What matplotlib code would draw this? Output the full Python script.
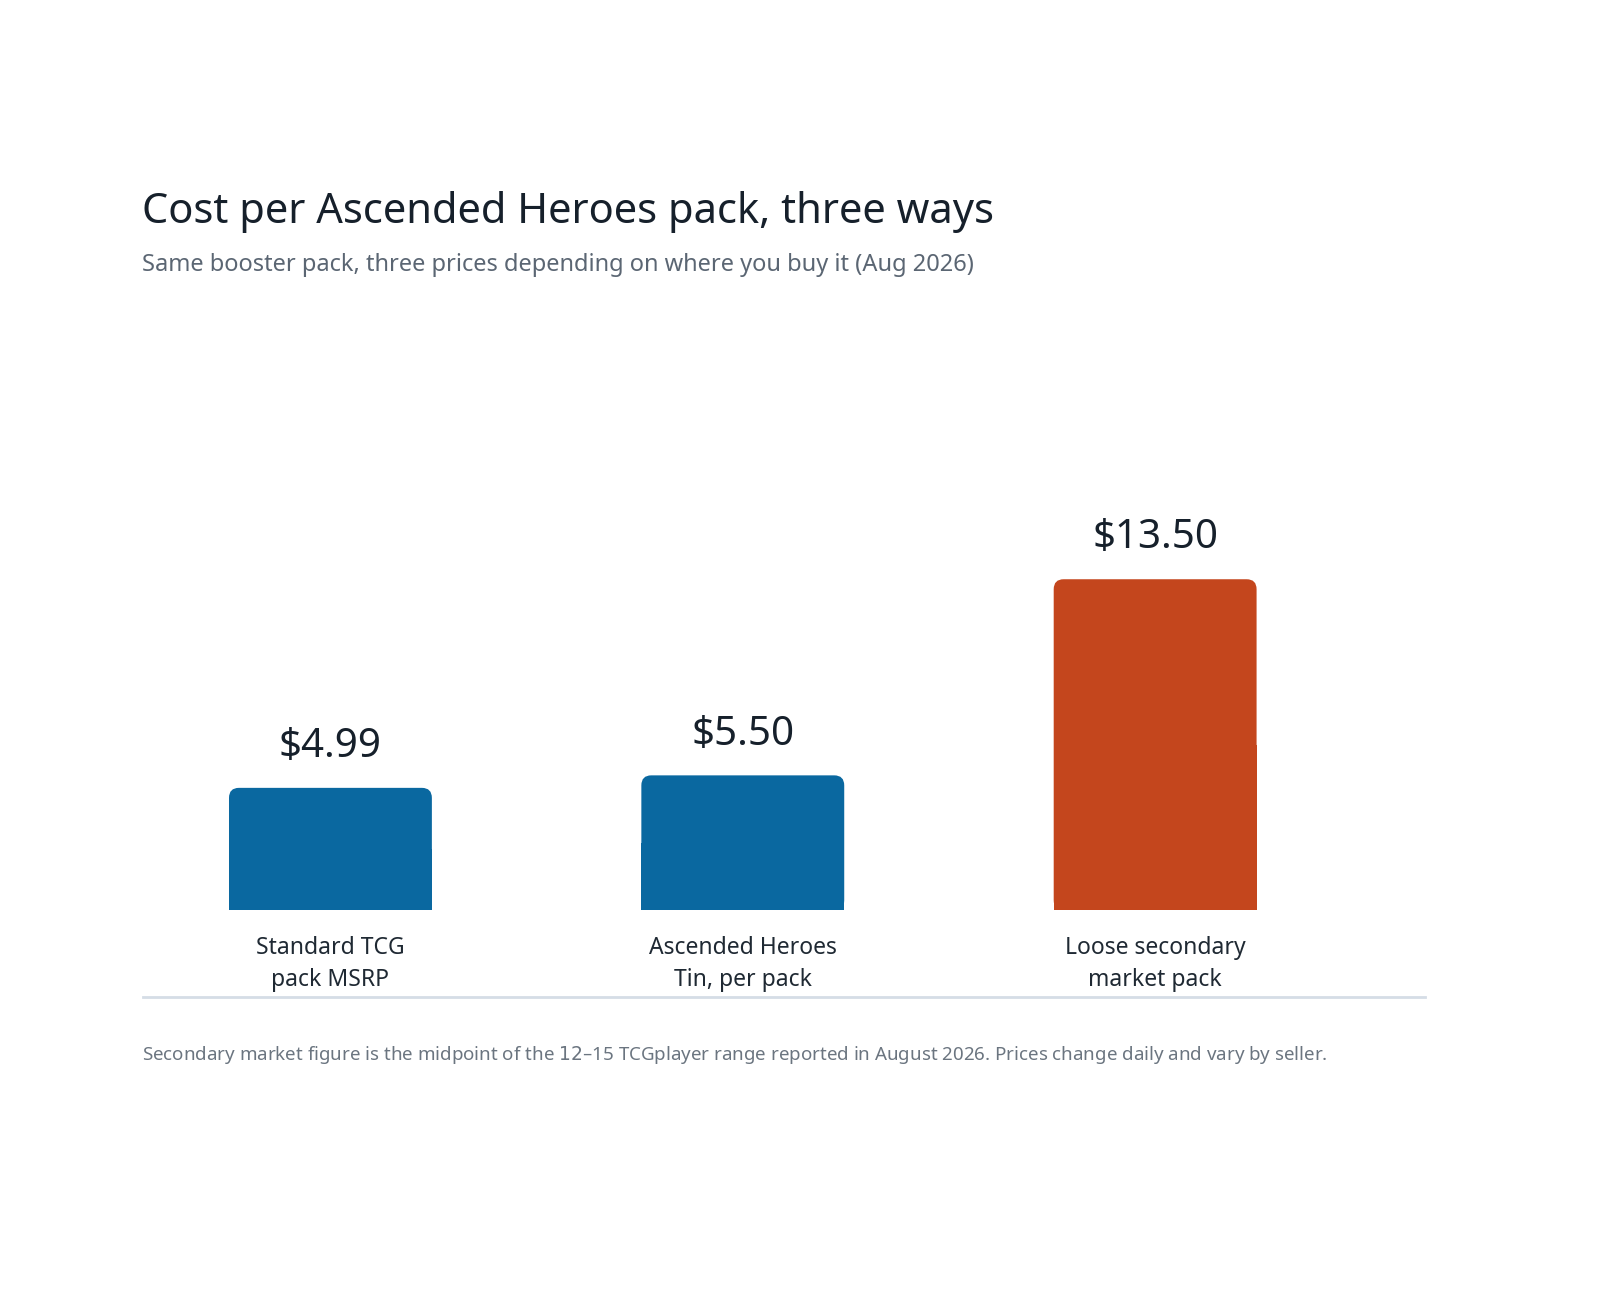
import matplotlib
matplotlib.use("Agg")
import matplotlib.pyplot as plt
from matplotlib.patches import FancyBboxPatch, Rectangle
from matplotlib.lines import Line2D

categories = ["Standard TCG\npack MSRP", "Ascended Heroes\nTin, per pack", "Loose secondary\nmarket pack"]
values = [4.99, 5.50, 13.50]
value_labels = ["$4.99", "$5.50", "$13.50"]
colors = ["#0a68a0", "#0a68a0", "#c4461d"]

plt.rcParams['font.family'] = ['Noto Sans', 'DejaVu Sans']
fig = plt.figure(figsize=(16, 13.04), dpi=100)
ax = fig.add_axes([0.089, 0.302, 0.801, 0.282])
ax.set_xlim(-0.456, 2.652)
ax.set_ylim(0, 15)
ax.axis('off')
w = 0.492
for i, (v, c) in enumerate(zip(values, colors)):
    ax.add_patch(FancyBboxPatch((i - w/2, 0), w, v,
                 boxstyle="round,pad=0,rounding_size=0.024",
                 mutation_aspect=17, fc=c, ec='none'))
    ax.add_patch(Rectangle((i - w/2, 0), w, v/2, fc=c, ec='none'))
    ax.text(i, v + 0.85, value_labels[i], ha='center', va='bottom',
            fontsize=29, fontweight='bold', color='#16202b')
    ax.text(i, -1.05, categories[i], ha='center', va='top', fontsize=16.5,
            fontweight='semibold', color='#1f2933', linespacing=1.45)

fig.text(0.089, 1 - 212/1304, "Cost per Ascended Heroes pack, three ways",
         fontsize=30, fontweight='bold', color='#16202b', va='center')
fig.text(0.089, 1 - 265/1304, "Same booster pack, three prices depending on where you buy it (Aug 2026)",
         fontsize=17, color='#5b6673', va='center')
fig.add_artist(Line2D([143/1600, 1425/1600], [1 - 997/1304]*2, color='#d5dde6', lw=2))
fig.text(0.089, 1 - 1055/1304,
         "Secondary market figure is the midpoint of the $12\u2013$15 TCGplayer range reported in August 2026. Prices change daily and vary by seller.",
         fontsize=13.5, color='#6b7580', va='center')
fig.savefig("out.png", dpi=100, facecolor='white')
